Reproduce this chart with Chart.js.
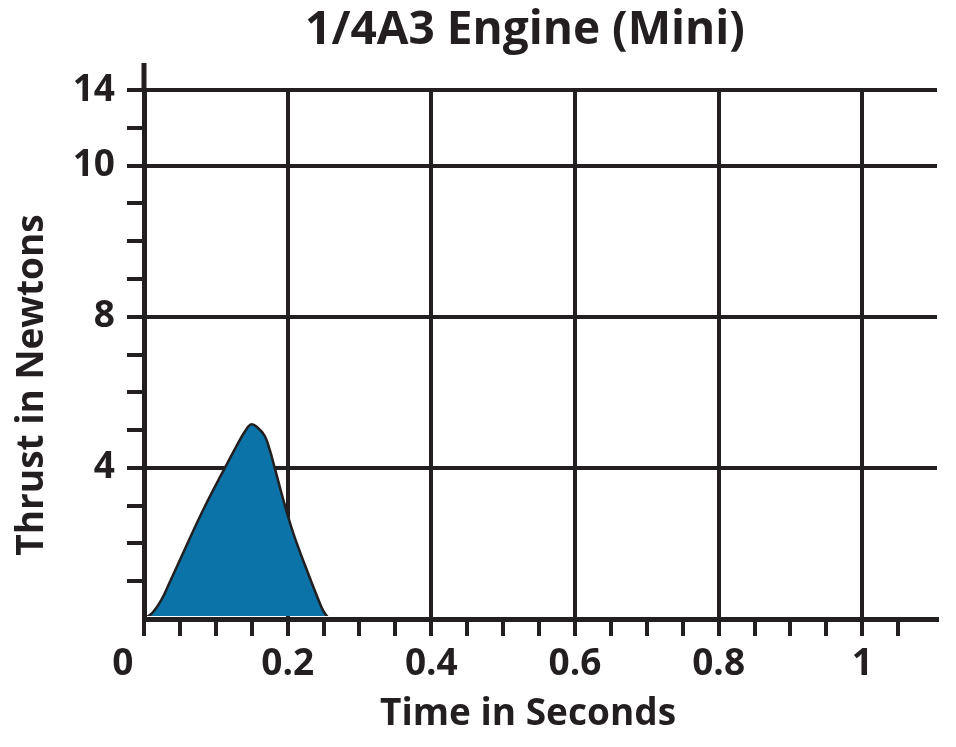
<!DOCTYPE html>
<html>
<head>
<meta charset="utf-8">
<title>1/4A3 Engine (Mini)</title>
<script src="https://cdn.jsdelivr.net/npm/chart.js@4/dist/chart.umd.min.js"></script>
<style>
  html, body { margin: 0; padding: 0; background: #fff; }
  canvas { display: block; }
</style>
</head>
<body>
<canvas id="thrustChart" width="956" height="747"></canvas>
<script>
// Thrust curve (time in s, thrust in N)
const timeValues   = [0, 0.012, 0.024, 0.0355, 0.06, 0.084, 0.1126, 0.128, 0.14, 0.149,
                      0.158, 0.168, 0.175, 0.182, 0.193, 0.207, 0.224, 0.242, 0.25, 0.258];
const thrustValues = [0, 0.17, 0.5, 0.96, 1.98, 2.95, 4.0, 4.55, 4.95, 5.15,
                      5.07, 4.85, 4.48, 4.0, 3.22, 2.32, 1.43, 0.55, 0.2, 0];

// Axis labels as printed on the chart (the y axis is not evenly labelled)
const xTickValues = [0, 0.2, 0.4, 0.6, 0.8, 1];
const xTickLabels = ['0\u2007\u2007', '0.2', '0.4', '0.6', '0.8', '1'];  // "0" sits left of the axis
const yTickValues = [4, 8, 12, 14];
const yTickLabels = ['4', '8', '10', '14'];

const chartTitle = '1/4A3 Engine (Mini)';
const xTitle = 'Time in Seconds';
const yTitle = 'Thrust in Newtons';

const ink = '#231f20';
const fillBlue = '#0b73a7';
const font = '"Open Sans", "Noto Sans", sans-serif';

const points = timeValues.map((t, i) => ({ x: t, y: thrustValues[i] }));

function findLabel(values, labels, v) {
    const i = values.findIndex(t => Math.abs(t - v) < 1e-6);
    return i >= 0 ? labels[i] : '';
}
function isMajor(values, v) {
    return values.some(t => Math.abs(t - v) < 1e-6);
}

// Titles and the short piece of y axis above the top grid line
const decorations = {
    id: 'decorations',
    beforeDatasetsDraw(chart) {
        const { ctx, chartArea } = chart;
        ctx.save();
        ctx.strokeStyle = ink;
        ctx.lineWidth = 5;
        ctx.beginPath();
        ctx.moveTo(chartArea.left, chartArea.top - 27);
        ctx.lineTo(chartArea.left, chartArea.top);
        ctx.stroke();
        ctx.restore();
    },
    afterDraw(chart) {
        const ctx = chart.ctx;
        ctx.save();
        ctx.fillStyle = ink;
        ctx.textAlign = 'center';
        ctx.textBaseline = 'alphabetic';
        ctx.font = 'bold 46px ' + font;
        ctx.fillText(chartTitle, 525, 44);
        ctx.font = 'bold 37px ' + font;
        ctx.fillText(xTitle, 528, 725);
        ctx.translate(43, 385);
        ctx.rotate(-Math.PI / 2);
        ctx.fillText(yTitle, 0, 0);
        ctx.restore();
    }
};

new Chart(document.getElementById('thrustChart'), {
    type: 'line',
    data: {
        datasets: [{
            data: points,
            borderColor: ink,
            borderWidth: 2.5,
            backgroundColor: fillBlue,
            fill: 'origin',
            pointRadius: 0,
            tension: 0.4,
            clip: { left: -3, top: 0, right: 0, bottom: -3 }
        }]
    },
    options: {
        responsive: false,
        animation: false,
        layout: { padding: { left: 0, top: 90, right: 19, bottom: 0 } },
        plugins: {
            legend: { display: false },
            tooltip: { enabled: false }
        },
        scales: {
            x: {
                type: 'linear',
                min: 0,
                max: 1.104,
                afterFit: s => { s.height = 128; },
                border: { color: ink, width: 5 },
                grid: {
                    lineWidth: 4,
                    color: c => (c.tick && c.tick.value > 0 && isMajor(xTickValues, c.tick.value)) ? ink : 'rgba(0,0,0,0)',
                    tickColor: c => (c.tick && c.tick.value > 1.07) ? 'rgba(0,0,0,0)' : ink,
                    tickLength: 17,
                    tickWidth: 4
                },
                ticks: {
                    stepSize: 0.05,
                    autoSkip: false,
                    includeBounds: false,
                    maxRotation: 0,
                    padding: 6,
                    color: ink,
                    font: { family: font, size: 37, weight: 'bold' },
                    callback: v => findLabel(xTickValues, xTickLabels, v)
                }
            },
            y: {
                type: 'linear',
                min: 0,
                max: 14,
                afterFit: s => { s.width = 144; },
                border: { color: ink, width: 5 },
                grid: {
                    lineWidth: 4,
                    color: c => (c.tick && isMajor(yTickValues, c.tick.value)) ? ink : 'rgba(0,0,0,0)',
                    tickColor: c => (c.tick && c.tick.value > 0) ? ink : 'rgba(0,0,0,0)',
                    tickLength: 17,
                    tickWidth: 4
                },
                ticks: {
                    stepSize: 1,
                    autoSkip: false,
                    padding: 12,
                    color: ink,
                    font: { family: font, size: 37, weight: 'bold' },
                    callback: v => findLabel(yTickValues, yTickLabels, v)
                }
            }
        }
    },
    plugins: [decorations]
});
</script>
</body>
</html>
